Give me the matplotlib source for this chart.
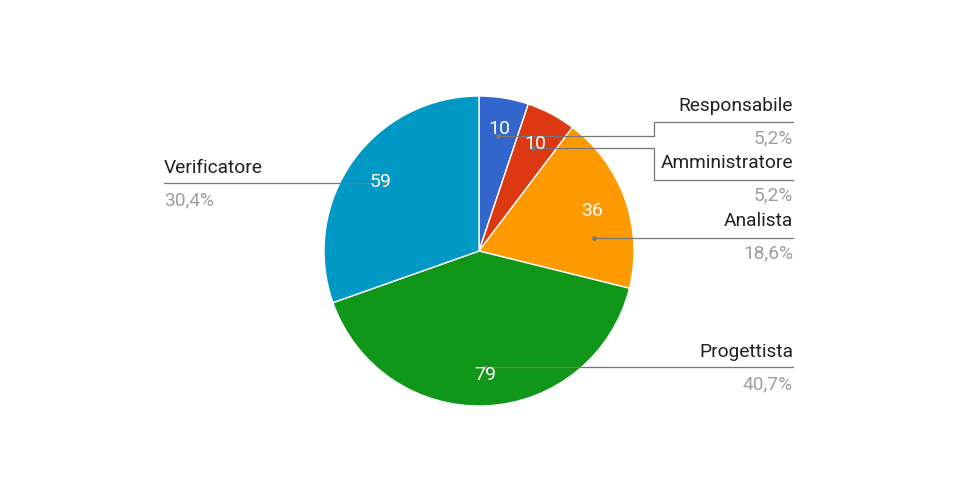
import matplotlib
matplotlib.use('Agg')
import matplotlib.pyplot as plt

roles = ['Responsabile', 'Amministratore', 'Analista', 'Progettista', 'Verificatore']
hours = [10, 10, 36, 79, 59]
colors = ['#3366cc', '#dc3912', '#ff9900', '#109618', '#0099c6']

W, H = 957, 501
plt.rcParams['font.family'] = ['Roboto', 'DejaVu Sans']

fig = plt.figure(figsize=(W / 100, H / 100), dpi=100)
ax = fig.add_axes([0, 0, 1, 1])

cx, cy, r = 479, 251, 155
# y axis is inverted, so counterclock=True draws clockwise on screen
ax.pie(hours, colors=colors, startangle=-90, counterclock=True,
       center=(cx, cy), radius=r, frame=True,
       wedgeprops=dict(edgecolor='white', linewidth=1))
ax.set_xlim(0, W)
ax.set_ylim(H, 0)
ax.set_aspect('equal')
ax.axis('off')

total = sum(hours)

line_col = '#777777'
# leader lines (layout), one per slice
leaders = [
    [(498, 136), (654, 136), (654, 122), (793, 122)],
    [(533, 148), (654, 148), (654, 180), (793, 180)],
    [(594, 238), (793, 238)],
    [(485, 367), (793, 367)],
    [(386, 183), (164, 183)],
]
for pts in leaders:
    xs = [p[0] for p in pts]
    ys = [p[1] for p in pts]
    ax.plot(xs, ys, color=line_col, lw=0.9, zorder=3)
    ax.plot(xs[0], ys[0], 'o', color=line_col, ms=2.5, zorder=3)

inner_pos = [(499, 129), (535, 144), (592, 211), (485, 375), (381, 182)]
for v, (x, y) in zip(hours, inner_pos):
    ax.text(x, y, str(v), color='white', fontsize=14, ha='center', va='center',
            zorder=4)

label_pos = [(793, 106, 'right'), (793, 163, 'right'), (793, 221, 'right'),
             (793, 352, 'right'), (164, 168, 'left')]
for role, v, (x, y, ha) in zip(roles, hours, label_pos):
    pct = f'{100 * v / total:.1f}%'.replace('.', ',')
    ax.text(x, y, role, color='#222222', fontsize=13.8, ha=ha, va='center')
    ax.text(x, y + 32, pct, color='#9e9e9e', fontsize=13.8, ha=ha, va='center')

fig.savefig('out.png', dpi=100, facecolor='white')
